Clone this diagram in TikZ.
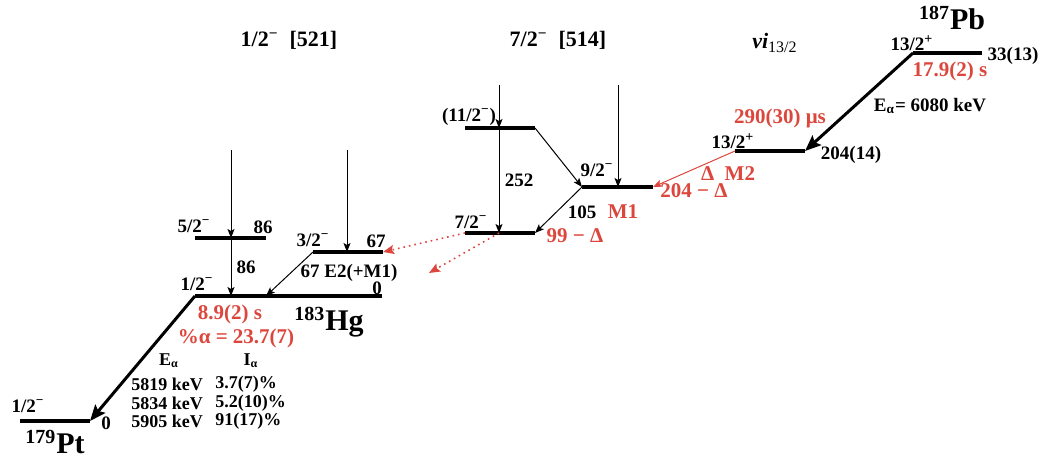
\documentclass[tikz,border=0pt]{standalone}
\usepackage{fontspec}
\setmainfont{Liberation Serif}
\usetikzlibrary{arrows.meta}
\definecolor{decayred}{RGB}{220,70,60}
\newcommand{\pminus}{\textsuperscript{−}}
\newcommand{\pplus}{\textsuperscript{\fontsize{7}{7}\selectfont+}}
\begin{document}
\begin{tikzpicture}[x=0.5pt,y=-0.5pt,
    lvl/.style={line width=1.8pt},
    gam/.style={line width=0.5pt,-{Stealth[length=4.5pt,width=3.5pt,inset=1pt]}},
    lost/.style={decayred,dotted,line width=0.8pt,-{Stealth[length=5.5pt,width=4.5pt,inset=1pt]}},
    alf/.style={line width=1.5pt,-{Stealth[length=8pt,width=6.5pt,inset=1.5pt]}},
    lab/.style={inner sep=0pt,font=\fontsize{9.5}{11}\bfseries\selectfont},
    tab/.style={inner sep=0pt,font=\fontsize{9}{10}\bfseries\selectfont},
    hl/.style={inner sep=0pt,text=decayred,font=\fontsize{10.5}{12}\bfseries\selectfont},
    head/.style={inner sep=0pt,font=\fontsize{11}{12}\bfseries\selectfont},
    nucl/.style={inner sep=0pt,font=\fontsize{15}{16}\bfseries\selectfont}]
  \useasboundingbox (0,0) rectangle (1044,460);
  \coordinate (pt0L) at (20,421);  \coordinate (pt0R) at (90,421);
  \coordinate (hg0L) at (195,296); \coordinate (hg0R) at (382,296);
  \coordinate (hg86L) at (195,238); \coordinate (hg86R) at (266,238);
  \coordinate (hg67L) at (313,252); \coordinate (hg67R) at (383,252);
  \coordinate (hg11L) at (465,128); \coordinate (hg11R) at (535,128);
  \coordinate (hg9L) at (582,187); \coordinate (hg9R) at (653,187);
  \coordinate (hg7L) at (465,233); \coordinate (hg7R) at (535,233);
  \coordinate (hgiL) at (735,151); \coordinate (hgiR) at (805,151);
  \coordinate (pbL) at (913,53);   \coordinate (pbR) at (982,53);
  \coordinate (f1) at (231,150); \coordinate (f2) at (347,150);
  \coordinate (f3) at (499,85);  \coordinate (f4) at (618,85);
  \coordinate (away) at (429,273);

  \draw[lvl] (pt0L) -- (pt0R);
  \draw[lvl] (hg0L) -- (hg0R);
  \draw[lvl] (hg86L) -- (hg86R);
  \draw[lvl] (hg67L) -- (hg67R);
  \draw[lvl] (hg11L) -- (hg11R);
  \draw[lvl] (hg9L) -- (hg9R);
  \draw[lvl] (hg7L) -- (hg7R);
  \draw[lvl] (hgiL) -- (hgiR);
  \draw[lvl] (pbL) -- (pbR);

  \draw[gam] (f1) -- (f1 |- hg86L);
  \draw[gam] (f1 |- hg86L) -- (f1 |- hg0L);
  \draw[gam] (f2) -- (f2 |- hg67L);
  \draw[gam] (hg67L) -- (hg86R |- hg0L);
  \draw[gam] (f3) -- (f3 |- hg11L);
  \draw[gam] (f3 |- hg11L) -- (f3 |- hg7L);
  \draw[gam] (hg11R) -- (hg9L);
  \draw[gam] (f4) -- (f4 |- hg9L);
  \draw[gam] (hg9L) -- (hg7R);
  \draw[gam,decayred] (hgiL) -- (hg9R);
  \draw[lost] (hg7L) -- (hg67R);
  \draw[lost] (f3 |- hg7L) -- (away);
  \draw[alf] (pbL) -- (hgiR);
  \draw[alf] (hg0L) -- (pt0R);

  \node[head] (h521) at (289,40) {1/2\pminus\ \ [521]};
  \node[head] (h514) at (558,40) {7/2\pminus\ \ [514]};
  \node[head] (hi13) at (775,43) {\textit{νi}\textsubscript{\fontsize{8}{8}\mdseries\selectfont 13/2}};

  \node[lab] (spt) at (28,406) {1/2\pminus};
  \node[lab] (ept) at (106,423) {0};
  \node[nucl] (npt) at (55,442) {\textsuperscript{\fontsize{10}{10}\selectfont 179}Pt};

  \node[lab] (shg0) at (197,284) {1/2\pminus};
  \node[lab] (ehg0) at (377,288) {0};
  \node[lab] (shg86) at (194,226) {5/2\pminus};
  \node[lab] (ehg86) at (263,227) {86};
  \node[lab] (g86) at (246,267) {86};
  \node[lab] (shg67) at (313,240) {3/2\pminus};
  \node[lab] (ehg67) at (376,241) {67};
  \node[lab] (g67) at (349,273) {67 E2(+M1)};
  \node[nucl] (nhg) at (329,322) {\textsuperscript{\fontsize{10}{10}\selectfont 183}Hg};
  \node[hl] (thg) at (230,314) {8.9(2) s};
  \node[hl] (bhg) at (236,338) {\%α = 23.7(7)};

  \node[tab] (tE) at (169,361) {E\textsubscript{α}};
  \node[tab] (tI) at (251,361) {I\textsubscript{α}};
  \node[tab] (e1) at (167,384) {5819 keV};
  \node[tab] (e2) at (167,403) {5834 keV};
  \node[tab] (e3) at (167,421) {5905 keV};
  \node[tab,anchor=west] (i1) at (215,384) {3.7(7)\%};
  \node[tab,anchor=west] (i2) at (215,403) {5.2(10)\%};
  \node[tab,anchor=west] (i3) at (215,421) {91(17)\%};

  \node[lab] (shg11) at (469,117) {(11/2\pminus)};
  \node[lab] (g252) at (519,180) {252};
  \node[lab] (shg9) at (597,170) {9/2\pminus};
  \node[lab] (g105) at (582,212) {105};
  \node[hl] (m105) at (623,212) {M1};
  \node[lab] (shg7) at (471,222) {7/2\pminus};
  \node[hl] (ehg7) at (575,236) {99 − Δ};

  \node[lab] (shgi) at (733,141) {13/2\pplus};
  \node[lab] (ehgi) at (851,155) {204(14)};
  \node[hl] (thgi) at (780,118) {290(30) μs};
  \node[hl] (m2) at (728,174) {Δ\enspace M2};
  \node[hl] (ehg9) at (694,191) {204 − Δ};

  \node[nucl,anchor=base] (npb) at (952,30) {\textsuperscript{\fontsize{10}{10}\selectfont 187}Pb};
  \node[lab] (spb) at (912,43) {13/2\pplus};
  \node[lab] (epb) at (1013,56) {33(13)};
  \node[hl] (tpb) at (950,71) {17.9(2) s};
  \node[lab] (apb) at (930,106) {E\textsubscript{α}= 6080 keV};
\end{tikzpicture}
\end{document}
